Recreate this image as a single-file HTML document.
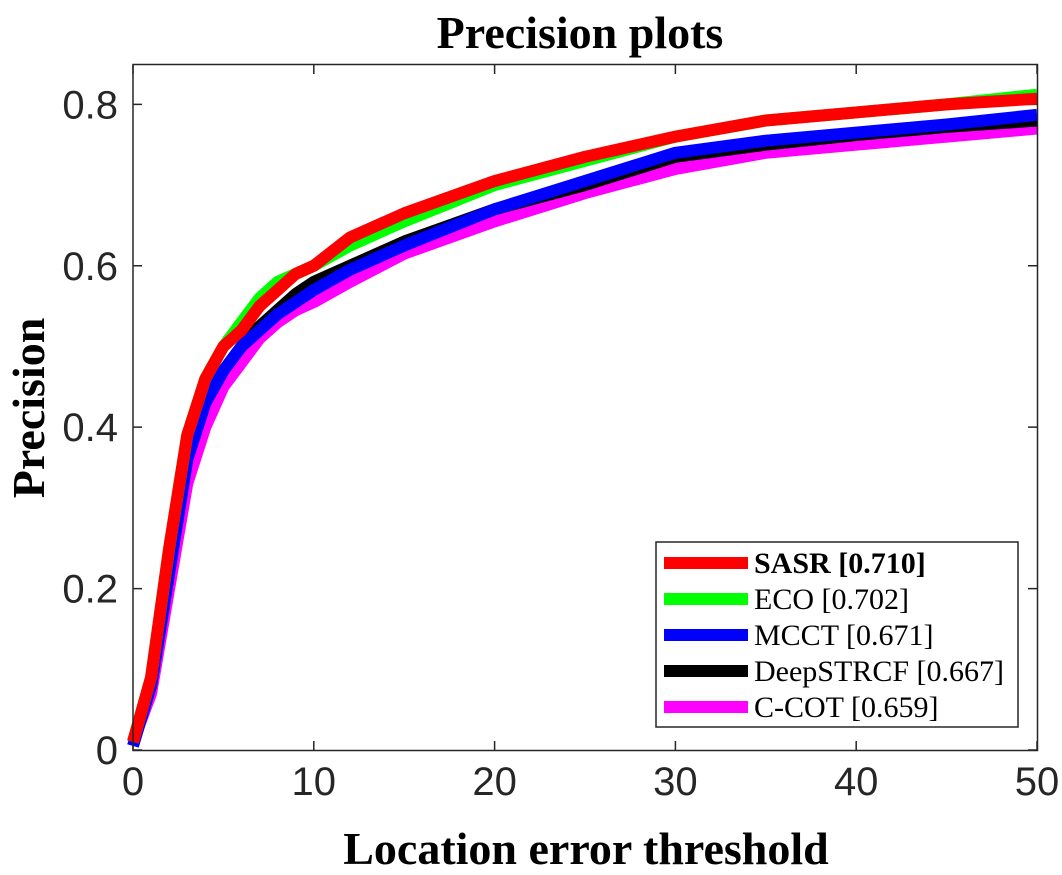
<!DOCTYPE html>
<html><head><meta charset="utf-8"><style>
html,body{margin:0;padding:0;background:#fff;}
svg{display:block;}
</style></head><body>
<svg id="chart" width="1062" height="875" xmlns="http://www.w3.org/2000/svg">
<text x="580" y="48" text-anchor="middle" font-family="Liberation Serif, serif" font-weight="bold" font-size="46">Precision plots</text>
<text x="586" y="864" text-anchor="middle" font-family="Liberation Serif, serif" font-weight="bold" font-size="46">Location error threshold</text>
<text transform="translate(44,408) rotate(-90)" text-anchor="middle" font-family="Liberation Serif, serif" font-weight="bold" font-size="46">Precision</text>
<g id="ticks"></g>
<g id="series"></g>
<rect x="133" y="64.5" width="904.5" height="686" fill="none" stroke="#262626" stroke-width="1.5"/>
<g id="legend"></g>
</svg>
<script>
const xVals=[0,1,2,3,4,5,6,7,8,9,10,12,15,20,25,30,35,40,45,50];
const seriesNames=["SASR [0.710]","ECO [0.702]","MCCT [0.671]","DeepSTRCF [0.667]","C-COT [0.659]"];
const seriesColors=["#ff0000","#00ff00","#0000ff","#000000","#ff00ff"];
const ecoVals=[0.01,0.09,0.25,0.39,0.46,0.50,0.53,0.56,0.58,0.59,0.60,0.625,0.655,0.70,0.73,0.76,0.78,0.79,0.80,0.812];
const mcctVals=[0.005,0.08,0.22,0.36,0.43,0.47,0.50,0.52,0.54,0.555,0.57,0.595,0.625,0.67,0.705,0.74,0.755,0.765,0.775,0.787];
const deepVals=[0.01,0.08,0.22,0.36,0.43,0.47,0.50,0.525,0.545,0.565,0.58,0.60,0.63,0.67,0.70,0.735,0.75,0.762,0.772,0.78];
const ccotVals=[0.01,0.07,0.20,0.33,0.40,0.45,0.48,0.51,0.53,0.545,0.555,0.58,0.615,0.655,0.69,0.72,0.74,0.75,0.76,0.77];
const sasrVals=[0.01,0.09,0.25,0.39,0.46,0.50,0.52,0.55,0.57,0.59,0.60,0.635,0.665,0.705,0.735,0.76,0.78,0.79,0.80,0.807];
const xTicks=[0,10,20,30,40,50];
const yTicks=[0,0.2,0.4,0.6,0.8];
const yTickLabels=["0","0.2","0.4","0.6","0.8"];
const seriesVals=[sasrVals,ecoVals,mcctVals,deepVals,ccotVals];
const NS="http://www.w3.org/2000/svg";
function xs(v){return 133+v*(904/50);}
function ys(v){return 750-v*(686/0.85);}
const tg=document.getElementById('ticks');
xTicks.forEach(t=>{
  const x=xs(t);
  const l=document.createElementNS(NS,'path');
  l.setAttribute('d',`M${x},750 v-9 M${x},65 v9`);l.setAttribute('stroke','#262626');l.setAttribute('stroke-width','1.5');
  
  
  tg.appendChild(l);
  const tx=document.createElementNS(NS,'text');
  tx.setAttribute('x',x);tx.setAttribute('y',795);tx.setAttribute('text-anchor','middle');
  tx.setAttribute('font-family','Liberation Sans, sans-serif');tx.setAttribute('font-size','40');tx.setAttribute('fill','#262626');
  tx.textContent=t;
  
  
  tg.appendChild(tx);
});
yTicks.forEach((t,i)=>{
  const y=ys(t);
  const l=document.createElementNS(NS,'path');
  l.setAttribute('d',`M133,${y} h9 M1037,${y} h-9`);l.setAttribute('stroke','#262626');l.setAttribute('stroke-width','1.5');
  
  
  tg.appendChild(l);
  const tx=document.createElementNS(NS,'text');
  tx.setAttribute('x',118);tx.setAttribute('y',y+14);tx.setAttribute('text-anchor','end');
  tx.setAttribute('font-family','Liberation Sans, sans-serif');tx.setAttribute('font-size','40');tx.setAttribute('fill','#262626');
  tx.textContent=yTickLabels[i];
  
  
  tg.appendChild(tx);
});
const sg=document.getElementById('series');
for(let s=seriesVals.length-1;s>=0;s--){
  const p=document.createElementNS(NS,'polyline');
  p.setAttribute('points',xVals.map((x,i)=>xs(x)+','+ys(seriesVals[s][i])).join(' '));
  p.setAttribute('fill','none');p.setAttribute('stroke',seriesColors[s]);p.setAttribute('stroke-width','12');
  p.setAttribute('stroke-linejoin','round');
  
  
  sg.appendChild(p);
}
const lg=document.getElementById('legend');
const box=document.createElementNS(NS,'rect');
box.setAttribute('x',656);box.setAttribute('y',542);box.setAttribute('width',362);box.setAttribute('height',185);
box.setAttribute('fill','#fff');box.setAttribute('stroke','#262626');box.setAttribute('stroke-width','1.5');


lg.appendChild(box);
seriesNames.forEach((n,i)=>{
  const y=563+i*36;
  const l=document.createElementNS(NS,'line');
  l.setAttribute('x1',664);l.setAttribute('x2',748);l.setAttribute('y1',y);l.setAttribute('y2',y);
  l.setAttribute('stroke',seriesColors[i]);l.setAttribute('stroke-width','12');
  
  
  lg.appendChild(l);
  const t=document.createElementNS(NS,'text');
  t.setAttribute('x',754);t.setAttribute('y',y+10);
  t.setAttribute('font-family','Liberation Serif, serif');t.setAttribute('font-size','30');
  if(i===0)t.setAttribute('font-weight','bold');
  t.textContent=n;
  
  
  lg.appendChild(t);
});
</script>
</body></html>
